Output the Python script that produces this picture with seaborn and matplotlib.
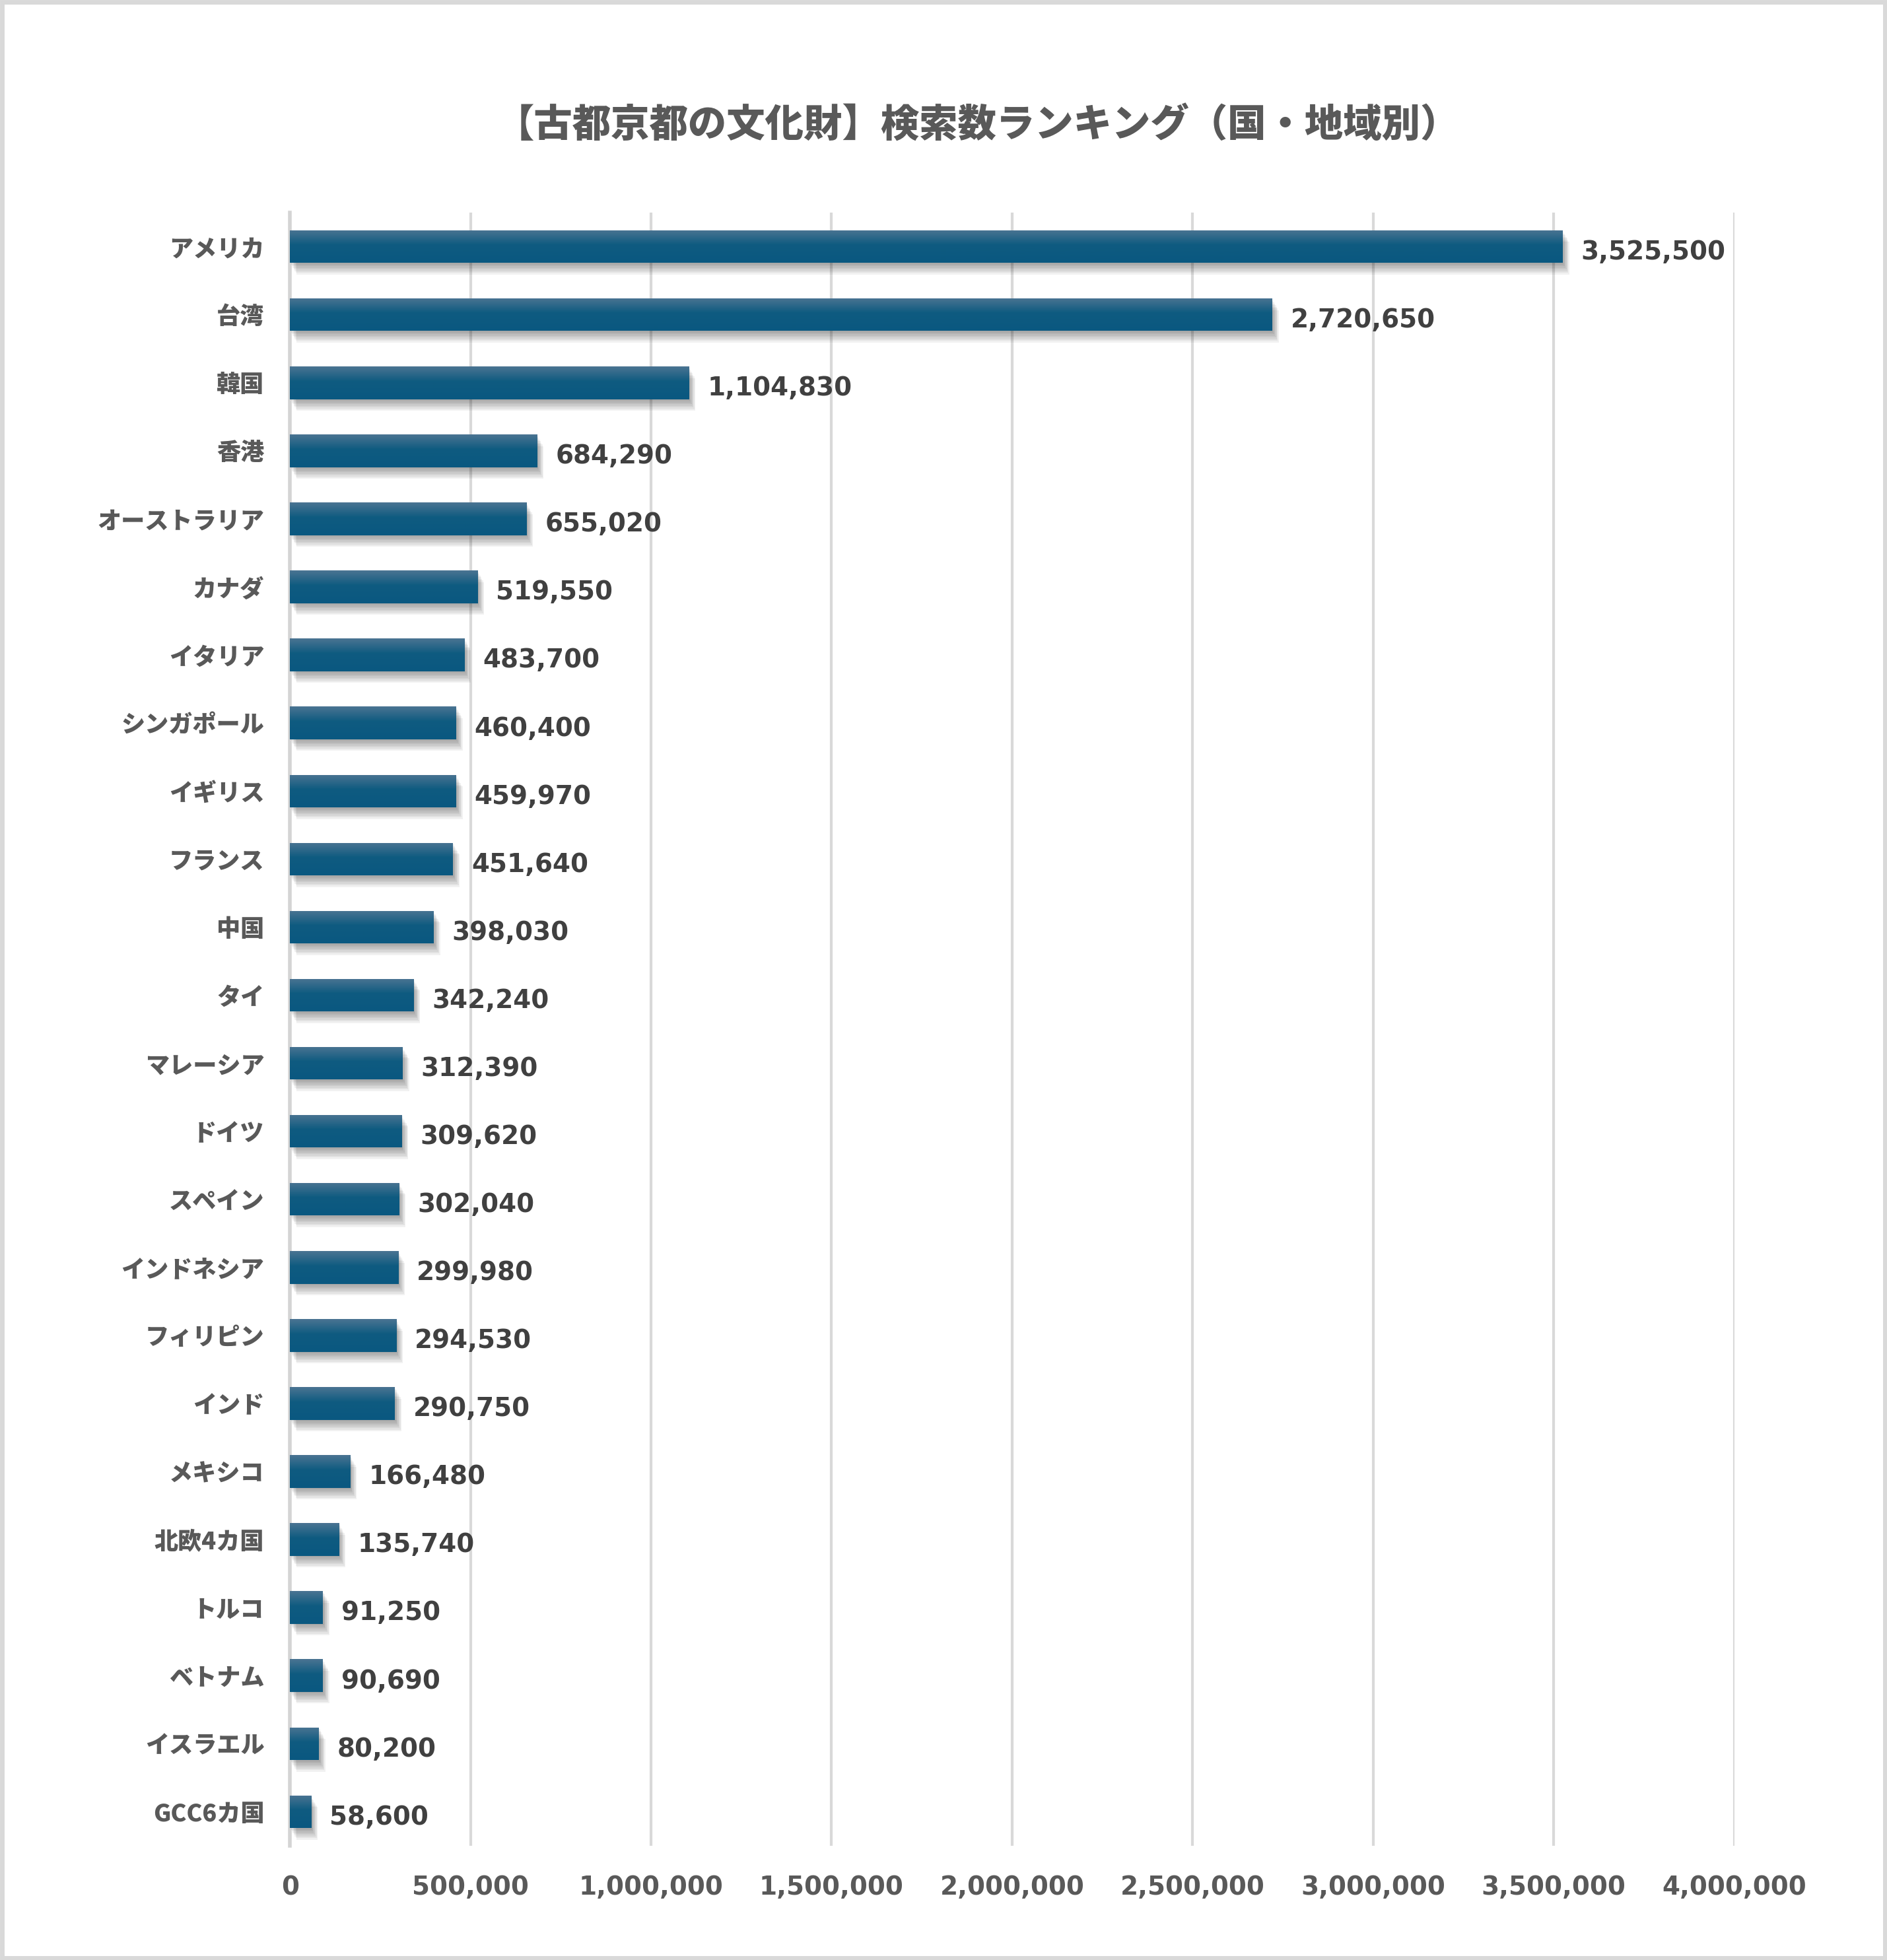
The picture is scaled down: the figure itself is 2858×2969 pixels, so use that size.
import numpy as np
import pandas as pd
import matplotlib
matplotlib.use("Agg")
import matplotlib.pyplot as plt
import matplotlib.patheffects as pe
from matplotlib.colors import LinearSegmentedColormap
from matplotlib.patches import Rectangle
from matplotlib.ticker import FuncFormatter
import seaborn as sns

title = "【古都京都の文化財】検索数ランキング（国・地域別）"
countries = ["アメリカ", "台湾", "韓国", "香港", "オーストラリア", "カナダ", "イタリア",
             "シンガポール", "イギリス", "フランス", "中国", "タイ", "マレーシア", "ドイツ",
             "スペイン", "インドネシア", "フィリピン", "インド", "メキシコ", "北欧4カ国",
             "トルコ", "ベトナム", "イスラエル", "GCC6カ国"]
searches = [3525500, 2720650, 1104830, 684290, 655020, 519550, 483700,
            460400, 459970, 451640, 398030, 342240, 312390, 309620,
            302040, 299980, 294530, 290750, 166480, 135740,
            91250, 90690, 80200, 58600]
x_ticks = [0, 500000, 1000000, 1500000, 2000000, 2500000, 3000000, 3500000, 4000000]

sns.set_theme(style="white")
plt.rcParams['font.family'] = ['Noto Sans CJK JP', 'DejaVu Sans']

TXT = "#595959"
df = pd.DataFrame({"country": countries, "searches": searches})

fig = plt.figure(figsize=(14.29, 14.845), dpi=200)
ax = fig.add_axes([0.1537, 0.0583, 0.919 - 0.1537, 0.8915 - 0.0583])

sns.barplot(data=df, y="country", x="searches", orient="h", color="#0b5a80",
            width=0.48, ax=ax, saturation=1, zorder=3, linewidth=0, edgecolor="none")

ax.set_xlim(0, 4000000)
ax.set_xticks(x_ticks)
ax.xaxis.set_major_formatter(FuncFormatter(lambda v, p: f"{int(v):,}"))
ax.set_xlabel("")
ax.set_ylabel("")
ax.grid(False)
ax.xaxis.grid(True, color="#d9d9d9", linewidth=1.5, zorder=0)
ax.set_axisbelow(True)
for s in ["top", "right", "bottom"]:
    ax.spines[s].set_visible(False)
ax.spines["left"].set_color("#d4d4d4")
ax.spines["left"].set_linewidth(2.0)
ax.tick_params(axis="both", length=0)
ax.tick_params(axis="y", pad=14)
ax.tick_params(axis="x", pad=16)

for lab in ax.get_yticklabels():
    lab.set_fontsize(13)
    lab.set_fontweight("heavy")
    lab.set_color(TXT)
    lab.set_family(['Noto Sans CJK JP', 'DejaVu Sans'])
for lab in ax.get_xticklabels():
    lab.set_fontsize(14)
    lab.set_fontweight("bold")
    lab.set_color(TXT)
    lab.set_family(['DejaVu Sans'])

xl, yl = ax.get_xlim(), ax.get_ylim()
cmap = LinearSegmentedColormap.from_list(
    "g", [(0.0, "#4a7492"), (0.45, "#0f5b80"), (1.0, "#0a5880")])
grad = np.linspace(0, 1, 64).reshape(-1, 1)
shadow = [pe.SimplePatchShadow(offset=(0.5 * i, -0.9 * i), shadow_rgbFace="black", alpha=0.055)
          for i in range(1, 8)] + [pe.Normal()]
for bar in ax.patches:
    bar.set_path_effects(shadow)
    x0, y0 = bar.get_x(), bar.get_y()
    w, h = bar.get_width(), bar.get_height()
    im = ax.imshow(grad, extent=(x0, x0 + w, y0 + h, y0), origin="upper", aspect="auto",
                   cmap=cmap, zorder=4, interpolation="bilinear")
    im.set_clip_path(bar)
ax.set_xlim(xl)
ax.set_ylim(yl)

for bar, v in zip(ax.patches, searches):
    ax.annotate(f"{v:,}", xy=(bar.get_x() + bar.get_width(), bar.get_y() + bar.get_height() / 2),
                xytext=(10, -3), textcoords="offset points", va="center", ha="left",
                fontsize=14, fontweight="bold", color="#404040", family=['DejaVu Sans'], zorder=5)

fig.text(0.518, 0.936, title, ha="center", va="center", fontsize=21, fontweight="heavy",
         color=TXT, family=['Noto Sans CJK JP', 'DejaVu Sans'])

fig.patches.append(Rectangle((0.001, 0.001), 0.998, 0.998, transform=fig.transFigure,
                             fill=False, edgecolor="#d9d9d9", linewidth=2.5))

fig.savefig("out.png", dpi=200, facecolor="white")
